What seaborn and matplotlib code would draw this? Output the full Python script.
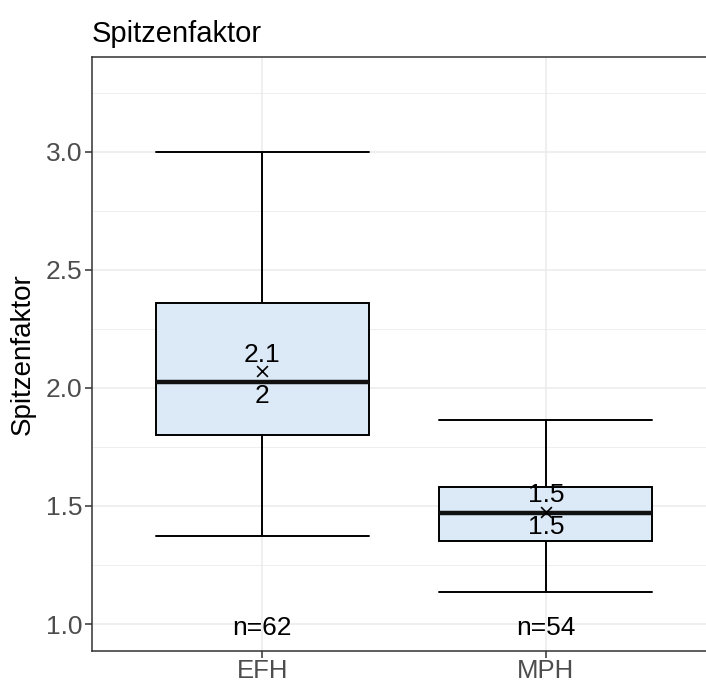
import matplotlib
matplotlib.use("Agg")
import matplotlib.pyplot as plt
import seaborn as sns
import pandas as pd
from matplotlib.ticker import MultipleLocator

# five-number summaries
groups = ["EFH", "MPH"]
lower = [1.374, 1.137]
q1 = [1.801, 1.352]
median = [2.027, 1.469]
q3 = [2.359, 1.582]
upper = [3.0, 1.863]
means = [2.073, 1.476]
mean_labels = ["2.1", "1.5"]
median_labels = ["2", "1.5"]
counts = [62, 54]

sns.set_style("white")
plt.rcParams["font.family"] = ["Liberation Sans", "DejaVu Sans"]

# five points per group -> quartiles land exactly on q1/median/q3
rows = []
for i, g in enumerate(groups):
    for v in (lower[i], q1[i], median[i], q3[i], upper[i]):
        rows.append({"Gebaeude": g, "Spitzenfaktor": v})
df = pd.DataFrame(rows)
mean_df = pd.DataFrame({"Gebaeude": groups, "Mittel": means})

fig = plt.figure(figsize=(7.06, 6.82), dpi=100)
W, H = 706, 682
ax = fig.add_axes([92 / W, (H - 651) / H, (716 - 92) / W, (651 - 57) / H])

sns.boxplot(
    data=df,
    x="Gebaeude",
    y="Spitzenfaktor",
    order=groups,
    whis=(0, 100),
    width=0.75,
    color="#DCE9F6",
    saturation=1,
    linecolor="black",
    linewidth=1.4,
    showfliers=False,
    capwidths=0.75,
    medianprops={"linewidth": 3.2, "color": "#111111"},
    ax=ax,
    zorder=3,
)

sns.scatterplot(
    data=mean_df,
    x="Gebaeude",
    y="Mittel",
    marker="x",
    s=60,
    color="black",
    linewidth=1.2,
    ax=ax,
    zorder=5,
    legend=False,
)

for i in range(len(groups)):
    ax.annotate(mean_labels[i], (i, means[i]), xytext=(0, 3), textcoords="offset points",
                ha="center", va="bottom", fontsize=19, color="black", zorder=6)
    ax.annotate(median_labels[i], (i, median[i]), xytext=(0, -1.5), textcoords="offset points",
                ha="center", va="top", fontsize=19, color="black", zorder=6)
    ax.text(i, 0.985, f"n={counts[i]}", ha="center", va="center", fontsize=19,
            color="black", zorder=6)

ax.set_xlim(-0.6, 1.6)
ax.set_ylim(0.8856, 3.4025)
ax.yaxis.set_major_locator(MultipleLocator(0.5))
ax.yaxis.set_minor_locator(MultipleLocator(0.25))
ax.yaxis.set_major_formatter(matplotlib.ticker.FormatStrFormatter("%.1f"))

ax.grid(True, which="major", axis="both", color="#EBEBEB", linewidth=1.1, zorder=0)
ax.grid(True, which="minor", axis="y", color="#EBEBEB", linewidth=0.6, zorder=0)
ax.set_axisbelow(True)

for s in ax.spines.values():
    s.set_color("#333333")
    s.set_linewidth(1.1)
    s.set_visible(True)

ax.tick_params(axis="both", which="major", length=5, width=1.1, color="#333333",
               labelsize=19, labelcolor="#4D4D4D", pad=2, direction="out",
               left=True, bottom=True)
ax.tick_params(axis="x", which="major", pad=0.5, labelsize=18.5)
ax.tick_params(axis="y", which="minor", length=0)

ax.set_xlabel("")
ax.set_ylabel("Spitzenfaktor", fontsize=20, color="black", labelpad=7)
ax.set_title("Spitzenfaktor", fontsize=21, loc="left", color="black", pad=11)

fig.savefig("out.png", dpi=100)
plt.close(fig)
